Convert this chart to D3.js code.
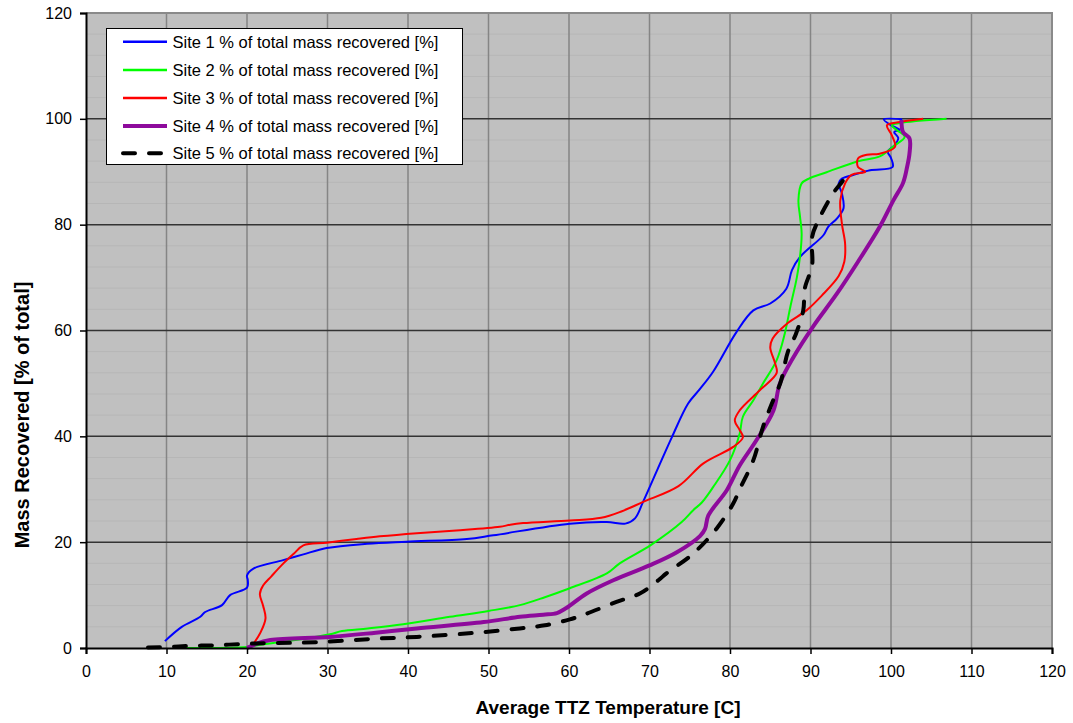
<!DOCTYPE html>
<html>
<head>
<meta charset="utf-8">
<script src="https://cdn.jsdelivr.net/npm/d3@7"></script>
<style>
  body { margin: 0; background: #fff; }
  text { font-family: Arial, "Liberation Sans", sans-serif; }
</style>
</head>
<body>
<div id="chart"></div>
<script>
// series data: [temperature C, % of total mass recovered]
var site1 = [
  [9.8, 1.3], [11.9, 4.0], [14.2, 5.9], [14.8, 6.8], [16.9, 8.1], [17.9, 10.0],
  [20.0, 11.4], [20.1, 12.8], [20.0, 13.7], [20.8, 15.0], [24.5, 16.6], [27.0, 17.7],
  [29.9, 18.9], [34.9, 19.7], [39.8, 20.1], [47.3, 20.6], [50.6, 21.3], [60.1, 23.5],
  [64.7, 23.8], [67.0, 23.5], [68.2, 24.5], [69.2, 27.6], [71.5, 35.5], [72.8, 39.9],
  [74.8, 46.2], [76.3, 49.0], [77.9, 52.2], [80.8, 59.7], [82.9, 63.8], [85.0, 65.1],
  [87.0, 67.9], [87.7, 71.4], [88.7, 73.9], [91.6, 78.0], [92.2, 79.6], [93.3, 81.2],
  [94.1, 83.1], [93.9, 85.9], [93.5, 87.8], [93.9, 88.7], [95.3, 89.4], [97.4, 90.3],
  [100.2, 90.9], [100.0, 92.6], [99.6, 93.8], [100.5, 95.1], [100.9, 96.4], [100.4, 97.5],
  [101.1, 97.9], [100.1, 98.7], [99.1, 99.9], [101.4, 99.9]
];
var site2 = [
  [11.9, 0.0], [20.0, 0.2], [21.6, 0.6], [26.0, 1.5], [30.3, 2.6], [31.8, 3.2],
  [35.0, 3.7], [39.4, 4.5], [45.2, 5.9], [50.0, 7.0], [53.9, 8.1], [57.0, 9.6],
  [60.1, 11.3], [64.7, 14.1], [66.3, 16.0], [70.2, 19.5], [74.0, 23.8], [75.4, 26.0],
  [76.5, 27.5], [77.9, 30.4], [80.0, 35.5], [81.2, 40.5], [81.6, 43.7], [82.9, 46.8],
  [84.1, 50.0], [85.8, 54.4], [86.8, 59.4], [87.5, 64.5], [88.3, 70.0], [88.7, 74.0],
  [88.9, 78.3], [88.7, 81.5], [88.5, 84.6], [88.9, 87.8], [89.8, 88.7], [92.0, 89.9],
  [95.9, 92.0], [98.6, 92.9], [100.3, 94.8], [101.7, 96.6], [100.7, 97.9], [100.1, 98.8],
  [101.1, 99.2], [106.9, 100.0]
];
var site3 = [
  [20.8, 0.8], [21.7, 3.0], [22.3, 5.6], [22.0, 8.0], [21.6, 10.2], [22.0, 11.8],
  [23.0, 13.5], [24.4, 15.8], [25.8, 17.8], [27.0, 19.4], [29.9, 19.9], [33.6, 20.6],
  [36.5, 21.1], [41.1, 21.7], [46.0, 22.2], [51.4, 22.9], [52.7, 23.3], [54.3, 23.6],
  [60.1, 24.1], [64.0, 24.6], [66.5, 25.8], [69.2, 27.6], [73.6, 30.6], [76.7, 34.9],
  [80.4, 38.0], [81.6, 39.8], [81.2, 41.2], [80.6, 43.0], [81.2, 44.9], [83.7, 48.7],
  [85.8, 52.0], [85.6, 53.8], [85.0, 56.8], [85.3, 58.5], [87.0, 61.2], [89.5, 63.8],
  [91.4, 66.6], [93.5, 70.3], [94.2, 73.0], [94.3, 76.4], [93.9, 80.2], [93.7, 84.6],
  [94.3, 87.8], [95.1, 89.4], [96.8, 90.0], [95.9, 90.9], [95.9, 92.5], [97.0, 93.2],
  [98.6, 93.4], [100.5, 94.7], [100.1, 96.9], [99.5, 98.8], [101.1, 99.4], [104.0, 100.0]
];
var site4 = [
  [20.0, 0.0], [21.0, 0.7], [22.9, 1.5], [30.3, 2.1], [36.0, 2.9], [41.1, 3.7],
  [49.4, 4.9], [53.9, 5.9], [56.8, 6.3], [58.5, 6.6], [59.5, 7.4], [60.1, 8.0],
  [62.2, 10.3], [65.5, 12.8], [70.0, 15.6], [73.4, 18.1], [76.3, 21.2], [76.9, 22.5],
  [77.3, 25.0], [79.6, 29.8], [81.2, 34.5], [83.3, 39.3], [85.4, 44.9], [86.2, 50.0],
  [87.9, 55.0], [90.3, 60.7], [93.3, 67.0], [95.9, 73.0], [98.6, 79.6], [100.3, 84.6],
  [101.5, 87.9], [102.0, 90.9], [102.3, 93.5], [102.3, 96.3], [101.5, 97.5], [101.3, 99.8]
];
var site5 = [
  [7.7, 0.1], [10.4, 0.2], [12.9, 0.4], [15.8, 0.5], [20.0, 0.8], [22.4, 0.9],
  [28.7, 1.1], [36.5, 1.8], [41.1, 2.1], [49.4, 3.0], [53.9, 3.7], [57.0, 4.3],
  [60.1, 5.4], [62.2, 6.5], [65.9, 8.7], [68.8, 10.3], [71.1, 12.8], [72.1, 14.1],
  [75.4, 17.8], [78.3, 22.5], [80.4, 27.3], [81.2, 30.0], [82.9, 35.5], [84.1, 41.8],
  [85.2, 46.2], [86.3, 50.3], [87.2, 56.0], [88.2, 59.4], [89.1, 63.8], [89.3, 68.0],
  [90.2, 72.3], [90.2, 77.7], [91.2, 81.5], [92.8, 85.9], [94.3, 89.0], [94.5, 90.3]
];

var series_names = [
  'Site 1 % of total mass recovered [%]',
  'Site 2 % of total mass recovered [%]',
  'Site 3 % of total mass recovered [%]',
  'Site 4 % of total mass recovered [%]',
  'Site 5 % of total mass recovered [%]'
];
var x_ticks = [0, 10, 20, 30, 40, 50, 60, 70, 80, 90, 100, 110, 120];
var y_ticks = [0, 20, 40, 60, 80, 100, 120];
var y_minor = [4, 8, 12, 16, 24, 28, 32, 36, 44, 48, 52, 56, 64, 68, 72, 76, 84, 88, 92, 96, 104, 108, 112, 116];

// line styles, same order as the series
var styles = [
  { color: '#0000ff', width: 2,   dash: null },
  { color: '#00ff00', width: 2,   dash: null },
  { color: '#ff0000', width: 2,   dash: null },
  { color: '#8e0a9c', width: 4,   dash: null },
  { color: '#000000', width: 4,   dash: '12,14' }
];

var width  = 1073;
var height = 723;
var margin = { top: 13, right: 21, bottom: 75, left: 86 };

var svg = d3.select('#chart')
            .append('svg')
            .attr('width', width)
            .attr('height', height);

var x_scale = d3.scaleLinear()
                .domain([0, 120])
                .range([margin.left, width - margin.right]);
var y_scale = d3.scaleLinear()
                .domain([0, 120])
                .range([height - margin.bottom, margin.top]);

// plot background
svg.append('rect')
   .attr('x', x_scale(0))
   .attr('y', y_scale(120))
   .attr('width', x_scale(120) - x_scale(0))
   .attr('height', y_scale(0) - y_scale(120))
   .attr('fill', '#c0c0c0');

// minor horizontal grid
svg.append('g')
   .selectAll('line')
   .data(y_minor)
   .enter().append('line')
   .attr('x1', x_scale(0)).attr('x2', x_scale(120))
   .attr('y1', function(d) { return y_scale(d); })
   .attr('y2', function(d) { return y_scale(d); })
   .attr('stroke', '#b6b6b6')
   .attr('stroke-width', 1);

// vertical grid
svg.append('g')
   .selectAll('line')
   .data(x_ticks.filter(function(d) { return d > 0 && d < 120; }))
   .enter().append('line')
   .attr('x1', function(d) { return x_scale(d); })
   .attr('x2', function(d) { return x_scale(d); })
   .attr('y1', y_scale(0)).attr('y2', y_scale(120))
   .attr('stroke', '#858585')
   .attr('stroke-width', 1.5);

// major horizontal grid
svg.append('g')
   .selectAll('line')
   .data(y_ticks.filter(function(d) { return d > 0 && d < 120; }))
   .enter().append('line')
   .attr('x1', x_scale(0)).attr('x2', x_scale(120))
   .attr('y1', function(d) { return y_scale(d); })
   .attr('y2', function(d) { return y_scale(d); })
   .attr('stroke', '#333333')
   .attr('stroke-width', 1.5);

// top and right border
svg.append('path')
   .attr('d', 'M' + x_scale(0) + ',' + y_scale(120) + 'H' + x_scale(120) + 'V' + y_scale(0))
   .attr('fill', 'none')
   .attr('stroke', '#8a8a8a')
   .attr('stroke-width', 2);

// the lines
var clip = svg.append('clipPath').attr('id', 'plot-clip')
   .append('rect')
   .attr('x', x_scale(0))
   .attr('y', y_scale(120))
   .attr('width', x_scale(120) - x_scale(0))
   .attr('height', y_scale(0) - y_scale(120) + 2);

var line = d3.line()
             .x(function(d) { return x_scale(d[0]); })
             .y(function(d) { return y_scale(d[1]); })
             .curve(d3.curveCatmullRom.alpha(0.5));

var all_series = [site1, site2, site3, site4, site5];
var plot = svg.append('g').attr('clip-path', 'url(#plot-clip)');
all_series.forEach(function(s, i) {
  plot.append('path')
      .datum(s)
      .attr('d', line)
      .attr('fill', 'none')
      .attr('stroke', styles[i].color)
      .attr('stroke-width', styles[i].width)
      .attr('stroke-linejoin', 'round')
      .attr('stroke-linecap', styles[i].dash ? 'round' : 'butt')
      .attr('stroke-dasharray', styles[i].dash);
});

// axes
var x_axis = d3.axisBottom(x_scale)
               .tickValues(x_ticks)
               .tickSize(6)
               .tickPadding(12);
var y_axis = d3.axisLeft(y_scale)
               .tickValues(y_ticks)
               .tickSize(6)
               .tickPadding(8);

var gx = svg.append('g')
   .attr('transform', 'translate(0,' + y_scale(0) + ')')
   .call(x_axis);
var gy = svg.append('g')
   .attr('transform', 'translate(' + x_scale(0) + ',0)')
   .call(y_axis);

[gx, gy].forEach(function(g) {
  g.select('.domain').attr('stroke', '#000').attr('stroke-width', 2);
  g.selectAll('.tick line').attr('stroke', '#000').attr('stroke-width', 1.5);
  g.selectAll('.tick text')
   .attr('fill', '#000')
   .style('font-size', '16px')
   .style('font-family', 'Arial, "Liberation Sans", sans-serif');
});

// axis titles
svg.append('text')
   .attr('x', 608)
   .attr('y', 714)
   .attr('text-anchor', 'middle')
   .style('font-size', '19px')
   .style('font-weight', 'bold')
   .text('Average TTZ Temperature [C]');

svg.append('text')
   .attr('transform', 'translate(29,415) rotate(-90)')
   .attr('text-anchor', 'middle')
   .style('font-size', '20px')
   .style('font-weight', 'bold')
   .text('Mass Recovered [% of total]');

// legend
var legend = svg.append('g');
legend.append('rect')
      .attr('x', 106.5).attr('y', 28.5)
      .attr('width', 356).attr('height', 136)
      .attr('fill', '#fff')
      .attr('stroke', '#000')
      .attr('stroke-width', 1);

var rows = [41.7, 70, 98, 126, 153.3];
series_names.forEach(function(name, i) {
  legend.append('line')
        .attr('x1', 123).attr('x2', 167)
        .attr('y1', rows[i]).attr('y2', rows[i])
        .attr('stroke', styles[i].color)
        .attr('stroke-width', i >= 3 ? 4 : 2.5)
        .attr('stroke-linecap', styles[i].dash ? 'round' : 'butt')
        .attr('stroke-dasharray', styles[i].dash);
  legend.append('text')
        .attr('x', 172.5)
        .attr('y', rows[i] + 6)
        .style('font-size', '16.5px')
        .text(name);
});
</script>
</body>
</html>
